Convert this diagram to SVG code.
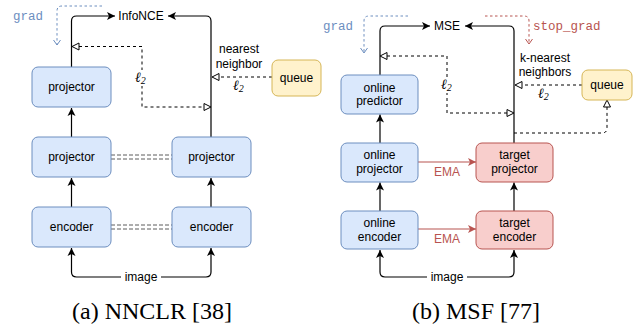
<svg xmlns="http://www.w3.org/2000/svg" width="633" height="329" viewBox="0 0 633 329">
<style>
.box{stroke-width:1}
.blue{fill:#dae8fc;stroke:#6c8ebf}
.red{fill:#f8cecc;stroke:#b85450}
.yel{fill:#fff2cc;stroke:#d6b656}
.t{font-family:"Liberation Sans",Arial,sans-serif;font-size:12px;fill:#000;text-anchor:middle}
.mono{font-family:"Liberation Mono","Courier New",monospace;font-size:12.5px}
.l2{font-family:"Liberation Serif","DejaVu Serif",serif;font-style:italic;font-size:14px;fill:#000}
.cap{font-family:"Liberation Serif","Times New Roman",serif;font-size:24px;fill:#000;text-anchor:middle}
.ln{fill:none;stroke:#000;stroke-width:1.2}
.dash{fill:none;stroke:#000;stroke-width:1;stroke-dasharray:3 3}
.dd{fill:none;stroke:#333;stroke-width:0.8;stroke-dasharray:4 2}
.bdot{fill:none;stroke:#6c8ebf;stroke-width:1;stroke-dasharray:2.5 2.5}
.rdot{fill:none;stroke:#b85450;stroke-width:1;stroke-dasharray:2.5 2.5}
.ema{fill:none;stroke:#b85450;stroke-width:1.2}
</style>
<defs>
<marker id="arr" viewBox="-9 -5 10 10" refX="0" refY="0" markerWidth="10" markerHeight="10" markerUnits="userSpaceOnUse" orient="auto">
<path d="M0,0 L-8,-4 L-6,0 L-8,4 Z" fill="#000"/>
</marker>
<marker id="arrR" viewBox="-9 -5 10 10" refX="0" refY="0" markerWidth="10" markerHeight="10" markerUnits="userSpaceOnUse" orient="auto">
<path d="M0,0 L-8,-4 L-6,0 L-8,4 Z" fill="#b85450"/>
</marker>
<marker id="tri" viewBox="-1 -5 10 10" refX="0" refY="0" markerWidth="10" markerHeight="10" markerUnits="userSpaceOnUse" orient="auto-start-reverse">
<path d="M0,-3.5 L7,0 L0,3.5 Z" fill="#fff" stroke="#000" stroke-width="1"/>
</marker>
<marker id="vB" viewBox="-6 -5 7 10" refX="0" refY="0" markerWidth="7" markerHeight="10" markerUnits="userSpaceOnUse" orient="auto">
<path d="M-5,-3.5 L0,0 L-5,3.5" fill="none" stroke="#6c8ebf" stroke-width="1"/>
</marker>
<marker id="vR" viewBox="-6 -5 7 10" refX="0" refY="0" markerWidth="7" markerHeight="10" markerUnits="userSpaceOnUse" orient="auto">
<path d="M-5,-3.5 L0,0 L-5,3.5" fill="none" stroke="#b85450" stroke-width="1"/>
</marker>
</defs>

<g id="connectors">
<!-- left panel -->
<path class="ln" d="M71.5,67 V21 Q71.5,16 76.5,16 H115" marker-end="url(#arr)"/>
<path class="ln" d="M211,137 V21 Q211,16 206,16 H168" marker-end="url(#arr)"/>
<path class="dash" d="M79,46.5 H142 V107 H204" marker-start="url(#tri)" marker-end="url(#tri)"/>
<path class="dash" d="M272,77 H219" marker-end="url(#tri)"/>
<path class="ln" d="M71.5,137 V108" marker-end="url(#arr)"/>
<path class="ln" d="M71.5,207 V178" marker-end="url(#arr)"/>
<path class="ln" d="M211,207 V178" marker-end="url(#arr)"/>
<path class="dd" d="M111,155 H172 M111,159 H172"/>
<path class="dd" d="M111,225 H172 M111,229 H172"/>
<path class="ln" d="M121,277 H76.5 Q71.5,277 71.5,272 V248" marker-end="url(#arr)"/>
<path class="ln" d="M161,277 H206 Q211,277 211,272 V248" marker-end="url(#arr)"/>
<path class="bdot" d="M102,6 H62 Q57,6 57,11 V45" marker-end="url(#vB)"/>
<!-- right panel -->
<path class="ln" d="M380,75 V31 Q380,26 385,26 H430" marker-end="url(#arr)"/>
<path class="ln" d="M514,143 V31 Q514,26 509,26 H465" marker-end="url(#arr)"/>
<path class="dash" d="M387,56 H447 V113 H507" marker-start="url(#tri)" marker-end="url(#tri)"/>
<path class="dash" d="M582,85 H522" marker-end="url(#tri)"/>
<path class="dash" d="M514,133 H602 Q607,133 607,128 V107" marker-end="url(#tri)"/>
<path class="ln" d="M380,143 V114.5" marker-end="url(#arr)"/>
<path class="ln" d="M380,211 V182.5" marker-end="url(#arr)"/>
<path class="ln" d="M514,211 V182.5" marker-end="url(#arr)"/>
<path class="ema" d="M418,162 H476" marker-end="url(#arrR)"/>
<path class="ema" d="M418,229 H476" marker-end="url(#arrR)"/>
<path class="ln" d="M427,277 H385 Q380,277 380,272 V250" marker-end="url(#arr)"/>
<path class="ln" d="M467,277 H509 Q514,277 514,272 V250" marker-end="url(#arr)"/>
<path class="bdot" d="M408,16 H369 Q364,16 364,21 V53" marker-end="url(#vB)"/>
<path class="rdot" d="M485,16 H524 Q529,16 529,21 V44" marker-end="url(#vR)"/>
</g>

<!-- left panel nodes -->
<g id="infonce"><text class="t" x="141" y="20">InfoNCE</text></g>
<g id="grad-left"><text class="mono" x="13" y="19.5" fill="#6c8ebf">grad</text></g>
<g id="l2-left-mid"><rect x="134" y="70" width="16" height="16" fill="#fff"/><text class="l2" x="135" y="82">ℓ<tspan font-size="10" dy="2">2</tspan></text></g>
<g id="nn-label"><text class="t" x="239" y="53">nearest</text><text class="t" x="239" y="68">neighbor</text></g>
<g id="l2-left-q"><text class="l2" x="233" y="90">ℓ<tspan font-size="10" dy="2">2</tspan></text></g>
<g id="queue-left"><rect class="box yel" x="272" y="60" width="49" height="36" rx="6"/><text class="t" x="296.5" y="82">queue</text></g>
<g id="projector-top"><rect class="box blue" x="32" y="67" width="79" height="40" rx="6"/><text class="t" x="71.5" y="91">projector</text></g>
<g id="projector-left"><rect class="box blue" x="32" y="137" width="79" height="40" rx="6"/><text class="t" x="71.5" y="161">projector</text></g>
<g id="projector-right"><rect class="box blue" x="172" y="137" width="79" height="40" rx="6"/><text class="t" x="211.5" y="161">projector</text></g>
<g id="encoder-left"><rect class="box blue" x="32" y="207" width="79" height="40" rx="6"/><text class="t" x="71.5" y="231">encoder</text></g>
<g id="encoder-right"><rect class="box blue" x="172" y="207" width="79" height="40" rx="6"/><text class="t" x="211.5" y="231">encoder</text></g>
<g id="image-left"><text class="t" x="141" y="281">image</text></g>

<!-- right panel nodes -->
<g id="mse"><text class="t" x="447" y="30">MSE</text></g>
<g id="grad-right"><text class="mono" x="323" y="30" fill="#6c8ebf">grad</text></g>
<g id="stopgrad"><text class="mono" x="533" y="30" fill="#b85450">stop_grad</text></g>
<g id="l2-right-mid"><rect x="440" y="77" width="16" height="16" fill="#fff"/><text class="l2" x="441" y="89">ℓ<tspan font-size="10" dy="2">2</tspan></text></g>
<g id="knn-label"><text class="t" x="545" y="62">k-nearest</text><text class="t" x="545" y="76">neighbors</text></g>
<g id="l2-right-q"><text class="l2" x="538" y="98">ℓ<tspan font-size="10" dy="2">2</tspan></text></g>
<g id="queue-right"><rect class="box yel" x="582" y="70" width="50" height="30" rx="6"/><text class="t" x="607" y="89">queue</text></g>
<g id="online-predictor"><rect class="box blue" x="341" y="75" width="77" height="39" rx="6"/><text class="t" x="379.5" y="91.5">online</text><text class="t" x="379.5" y="105">predictor</text></g>
<g id="online-projector"><rect class="box blue" x="341" y="143" width="77" height="39" rx="6"/><text class="t" x="379.5" y="159">online</text><text class="t" x="379.5" y="173">projector</text></g>
<g id="target-projector"><rect class="box red" x="476" y="143" width="77" height="39" rx="6"/><text class="t" x="514.5" y="159">target</text><text class="t" x="514.5" y="173">projector</text></g>
<g id="online-encoder"><rect class="box blue" x="341" y="211" width="77" height="38" rx="6"/><text class="t" x="379.5" y="227">online</text><text class="t" x="379.5" y="241">encoder</text></g>
<g id="target-encoder"><rect class="box red" x="476" y="211" width="77" height="38" rx="6"/><text class="t" x="514.5" y="227">target</text><text class="t" x="514.5" y="241">encoder</text></g>
<g id="ema-labels"><text class="t" x="447" y="176" style="fill:#b85450">EMA</text><text class="t" x="447" y="243" style="fill:#b85450">EMA</text></g>
<g id="image-right"><text class="t" x="447" y="281">image</text></g>

<g id="captions">
<text class="cap" x="152" y="319">(a) NNCLR [38]</text>
<text class="cap" x="476" y="319">(b) MSF [77]</text>
</g>
</svg>
